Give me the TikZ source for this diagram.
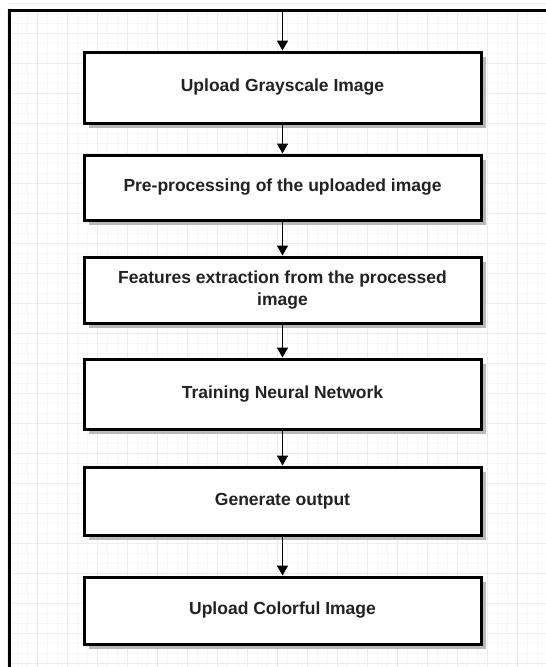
\documentclass[tikz,border=0pt]{standalone}
\usepackage{fontspec}
\setmainfont{Liberation Sans}
\usetikzlibrary{arrows.meta}
\definecolor{txt}{HTML}{222222}
\tikzset{
  stepbox/.style={draw=black, line width=3pt, fill=white, minimum width=397pt,
    align=center, font=\fontsize{17.5}{22}\selectfont\bfseries, text=txt, inner sep=0pt},
  flow/.style={draw=black, line width=1.6pt, -{Triangle[length=10pt,width=11pt]}},
  shadowbox/.style={fill=gray!55}
}
\begin{document}
\begin{tikzpicture}[x=1pt,y=-1pt]
\useasboundingbox (0,0) rectangle (546,667);
\fill[white] (0,0) rectangle (546,667);
% grid
\foreach \i in {0,10,...,546} \draw[gray!7, line width=0.5pt] (\i+7,10) -- (\i+7,667);
\foreach \j in {0,10,...,667} \draw[gray!7, line width=0.5pt] (9,\j+3) -- (546,\j+3);
\foreach \i in {0,30,...,546} \draw[gray!15, line width=0.7pt] (\i+7,10) -- (\i+7,667);
\foreach \j in {0,30,...,667} \draw[gray!15, line width=0.7pt] (9,\j+3) -- (546,\j+3);
% frame
\draw[line width=3pt] (9,667) -- (9,10) -- (546,10);
% shadows
\foreach \t/\b in {52/123,155/220,257/323,359/429,467/535,577/644}
  \fill[shadowbox] (89,\t+5) rectangle (486,\b+5);
% boxes
\node[stepbox, minimum height=71pt] (b1) at (282.5,87.5) {Upload Grayscale Image};
\node[stepbox, minimum height=65pt] (b2) at (282.5,187.5) {Pre-processing of the uploaded image};
\node[stepbox, minimum height=66pt] (b3) at (282.5,290) {Features extraction from the processed\\image};
\node[stepbox, minimum height=70pt] (b4) at (282.5,394) {Training Neural Network};
\node[stepbox, minimum height=68pt] (b5) at (282.5,501) {Generate output};
\node[stepbox, minimum height=67pt] (b6) at (282.5,610.5) {Upload Colorful Image};
\coordinate (top) at (282.5,10);
\draw[flow] (top) -- (b1.north);
\draw[flow] (b1.south) -- (b2.north);
\draw[flow] (b2.south) -- (b3.north);
\draw[flow] (b3.south) -- (b4.north);
\draw[flow] (b4.south) -- (b5.north);
\draw[flow] (b5.south) -- (b6.north);
\end{tikzpicture}
\end{document}
